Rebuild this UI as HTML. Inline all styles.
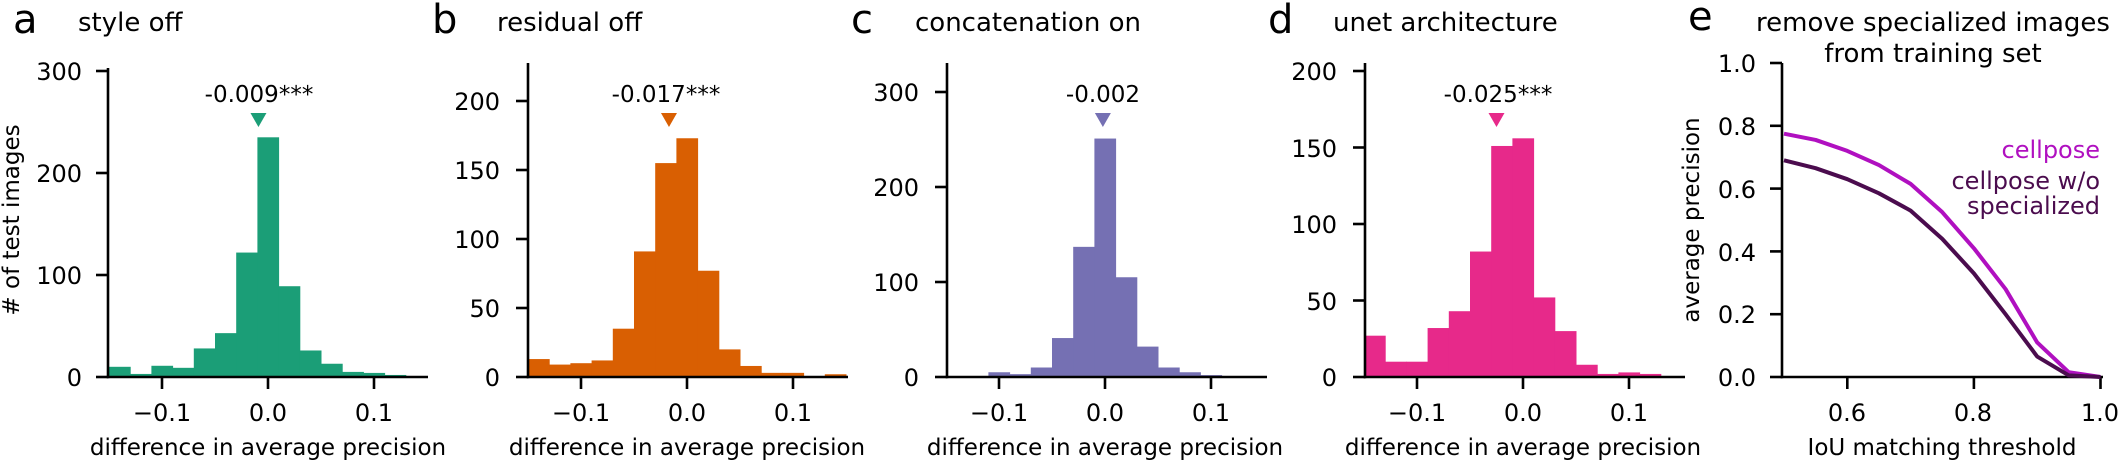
<!DOCTYPE html>
<html><head><meta charset="utf-8"><style>
html,body{margin:0;padding:0;background:#fff;}
svg{display:block;font-family:"DejaVu Sans","Liberation Sans",sans-serif;}
</style></head><body>
<svg id="s" width="2120" height="465" viewBox="0 0 2120 465" xmlns="http://www.w3.org/2000/svg">
<g id="bars"></g>
<g id="axes" stroke="#000" stroke-width="2.6" fill="none"></g>
<g font-size="40" fill="#000">
<text x="13" y="33">a</text><text x="432" y="33">b</text><text x="851" y="33">c</text><text x="1268" y="33">d</text><text x="1688" y="30">e</text>
</g>
<g font-size="26" fill="#000">
<text x="78" y="31">style off</text>
<text x="497" y="31">residual off</text>
<text x="915" y="31">concatenation on</text>
<text x="1333" y="31">unet architecture</text>
<text x="1933" y="31" text-anchor="middle">remove specialized images</text>
<text x="1933" y="62" text-anchor="middle">from training set</text>
</g>
<g font-size="23" fill="#000" text-anchor="middle">
<text x="259" y="102">-0.009***</text>
<text x="666" y="102">-0.017***</text>
<text x="1103" y="102">-0.002</text>
<text x="1498" y="102">-0.025***</text>
</g>
<g font-size="24" fill="#000" text-anchor="middle">
<text x="162" y="421">−0.1</text><text x="268" y="421">0.0</text><text x="374" y="421">0.1</text>
<text x="581" y="421">−0.1</text><text x="687" y="421">0.0</text><text x="793" y="421">0.1</text>
<text x="999" y="421">−0.1</text><text x="1105" y="421">0.0</text><text x="1211" y="421">0.1</text>
<text x="1417" y="421">−0.1</text><text x="1523" y="421">0.0</text><text x="1629" y="421">0.1</text>
<text x="1847" y="421">0.6</text><text x="1973" y="421">0.8</text><text x="2100" y="421">1.0</text>
</g>
<g font-size="24" fill="#000" text-anchor="end">
<text x="82" y="386">0</text><text x="82" y="284">100</text><text x="82" y="182">200</text><text x="82" y="80">300</text>
<text x="500" y="386">0</text><text x="500" y="317">50</text><text x="500" y="248">100</text><text x="500" y="179">150</text><text x="500" y="110">200</text>
<text x="919" y="386">0</text><text x="919" y="291">100</text><text x="919" y="196">200</text><text x="919" y="101">300</text>
<text x="1337" y="386">0</text><text x="1337" y="310">50</text><text x="1337" y="233">100</text><text x="1337" y="157">150</text><text x="1337" y="80">200</text>
<text x="1756" y="386">0.0</text><text x="1756" y="323">0.2</text><text x="1756" y="261">0.4</text><text x="1756" y="198">0.6</text><text x="1756" y="135">0.8</text><text x="1756" y="72">1.0</text>
</g>
<g font-size="23" fill="#000" text-anchor="middle">
<text x="268" y="455">difference in average precision</text>
<text x="687" y="455">difference in average precision</text>
<text x="1105" y="455">difference in average precision</text>
<text x="1523" y="455">difference in average precision</text>
<text x="1942" y="455">IoU matching threshold</text>
<text transform="translate(19,220) rotate(-90)">&#35; of test images</text>
<text transform="translate(1699,220) rotate(-90)">average precision</text>
</g>
<g font-size="24" text-anchor="end">
<text x="2100" y="158" fill="#b010c0">cellpose</text>
<text x="2100" y="189" fill="#4b0c4e">cellpose w/o</text>
<text x="2100" y="214" fill="#4b0c4e">specialized</text>
</g>
<polyline id="l1" fill="none" stroke="#b010c0" stroke-width="4" stroke-linejoin="round"/>
<polyline id="l2" fill="none" stroke="#4b0c4e" stroke-width="4" stroke-linejoin="round"/>
</svg>
<script>
var NS="http://www.w3.org/2000/svg";
function el(p,t,a){var e=document.createElementNS(NS,t);for(var k in a)e.setAttribute(k,a[k]);p.appendChild(e);return e;}
var bars=document.getElementById('bars'),axes=document.getElementById('axes');
var panels=[
 {ax:108,x0:268,col:"#1b9e77",ppu:1.02,top:68,mk:-0.009,yt:[0,100,200,300],
  h:[10,3,11,9,28,43,122,235,89,26,13,5,4,2,0]},
 {ax:528,x0:687,col:"#d95f02",ppu:1.38,top:63,mk:-0.017,yt:[0,50,100,150,200],
  h:[13,9,10,12,35,91,155,173,77,20,8,3,3,0,2]},
 {ax:947,x0:1105,col:"#7570b3",ppu:0.95,top:63,mk:-0.002,yt:[0,100,200,300],
  h:[1,0,5,3,10,41,137,251,105,32,10,5,2,0,1]},
 {ax:1365,x0:1523,col:"#e7298a",ppu:1.53,top:63,mk:-0.025,yt:[0,50,100,150,200],
  h:[27,10,10,32,43,82,151,156,52,30,8,2,3,2,0]}
];
var Y0=377,S=1060;
panels.forEach(function(p){
 for(var i=0;i<15;i++){var e0=-0.15+0.02*i;var x=p.x0+e0*S;var hh=p.h[i]*p.ppu;
  if(hh>0)el(bars,'rect',{x:x,y:Y0-hh,width:0.02*S+0.5,height:hh,fill:p.col});}
 var mx=p.x0+p.mk*S;
 el(bars,'polygon',{points:(mx-8)+",113 "+(mx+8)+",113 "+mx+",127",fill:p.col});
 el(axes,'line',{x1:p.ax,y1:p.top,x2:p.ax,y2:Y0+1.3});
 el(axes,'line',{x1:p.ax-1.3,y1:Y0,x2:p.ax+320,y2:Y0});
 [-0.1,0,0.1].forEach(function(t){var x=p.x0+t*S;el(axes,'line',{x1:x,y1:Y0,x2:x,y2:Y0+12});});
 p.yt.forEach(function(t){var y=Y0-t*p.ppu;el(axes,'line',{x1:p.ax,y1:y,x2:p.ax-12,y2:y});});
});
var eax=1782;
el(axes,'line',{x1:eax,y1:63,x2:eax,y2:Y0+1.3});
el(axes,'line',{x1:eax-1.3,y1:Y0,x2:2103,y2:Y0});
[0.6,0.8,1.0].forEach(function(t){var x=1784+(t-0.5)*633;el(axes,'line',{x1:x,y1:Y0,x2:x,y2:Y0+12});});
[0,0.2,0.4,0.6,0.8,1.0].forEach(function(t){var y=Y0-t*314;el(axes,'line',{x1:eax,y1:y,x2:eax-12,y2:y});});
var a=[0.775,0.755,0.72,0.675,0.615,0.525,0.41,0.28,0.11,0.015,0];
var b=[0.69,0.665,0.63,0.585,0.53,0.44,0.33,0.2,0.065,0.005,0];
function pts(v){return v.map(function(y,i){return (1784+i*0.05*633)+","+(Y0-y*314);}).join(" ");}
document.getElementById('l1').setAttribute('points',pts(a));
document.getElementById('l2').setAttribute('points',pts(b));
</script>
</body></html>
